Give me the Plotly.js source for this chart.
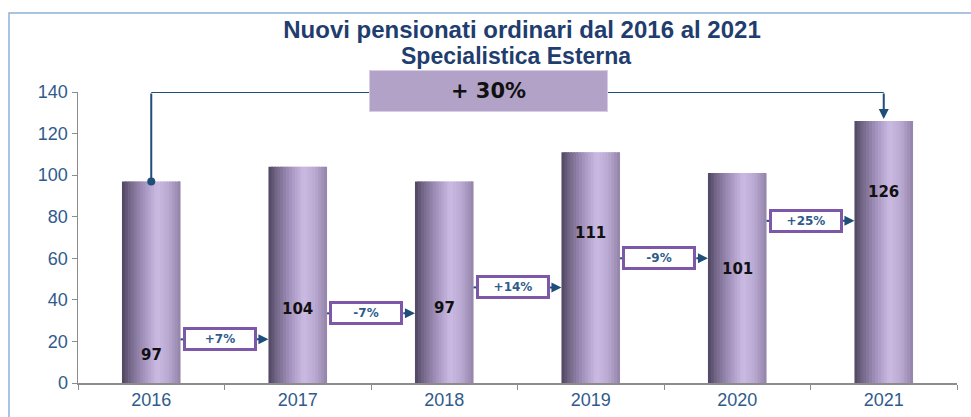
<!DOCTYPE html>
<html>
<head>
<meta charset="utf-8">
<script src="https://cdn.plot.ly/plotly-3.0.1.min.js"></script>
<style>
html,body{margin:0;padding:0;background:#fff;}
#chart{width:971px;height:417px;}
</style>
</head>
<body>
<div id="chart"></div>
<script>
// ---- data ----
const years = ['2016', '2017', '2018', '2019', '2020', '2021'];
const values = [97, 104, 97, 111, 101, 126];
const changeLabels = ['+7%', '-7%', '+14%', '-9%', '+25%'];
const totalChange = '+ 30%';
const titleLine1 = 'Nuovi pensionati ordinari dal 2016 al 2021';
const titleLine2 = 'Specialistica Esterna';

// ---- styling / placement (not data) ----
const labelY = [13.5, 35.6, 36, 72, 55, 92];
const changeBoxY = [21, 33.5, 46, 60, 78];
const BAR_W = 0.4;
const STRIPES = 20;

const stops = [
  [0.00, [78, 68, 95]],
  [0.12, [112, 99, 132]],
  [0.35, [160, 143, 186]],
  [0.60, [203, 187, 227]],
  [0.80, [185, 168, 208]],
  [1.00, [146, 130, 168]]
];
function gradColor(t) {
  for (let i = 0; i < stops.length - 1; i++) {
    const [p0, c0] = stops[i], [p1, c1] = stops[i + 1];
    if (t >= p0 && t <= p1) {
      const f = (t - p0) / (p1 - p0);
      const c = c0.map((v, k) => Math.round(v + (c1[k] - v) * f));
      return `rgb(${c[0]},${c[1]},${c[2]})`;
    }
  }
  return 'rgb(146,130,168)';
}

const traces = [];
const sw = BAR_W / STRIPES;
for (let s = 0; s < STRIPES; s++) {
  const last = s === STRIPES - 1;
  traces.push({
    type: 'bar',
    x: years,
    y: values,
    width: last ? sw : sw * 1.6,
    offset: -BAR_W / 2 + s * sw,
    marker: { color: gradColor((s + 0.5) / STRIPES), line: { width: 0 } },
    hoverinfo: 'skip',
    showlegend: false
  });
}

const annotations = [];
const shapes = [];
const lineCol = '#1f4e79';
const txtCol = '#2f5b8c';
const titleCol = '#1f3d6e';
const boxBorder = '#7e58a8';
const wideFont = 'DejaVu Sans, Verdana, sans-serif';
const sansFont = 'Liberation Sans, Arial, sans-serif';

// title second line
annotations.push({
  x: (516 - 78) / 879, y: 1 + (92 - 56) / 291, xref: 'paper', yref: 'paper',
  xanchor: 'center', yanchor: 'middle',
  text: '<b>' + titleLine2 + '</b>', showarrow: false,
  font: { family: sansFont, size: 23, color: titleCol }
});

// value labels
years.forEach((yr, i) => {
  annotations.push({
    x: i, y: labelY[i], xref: 'x', yref: 'y',
    text: '<b>' + values[i] + '</b>', showarrow: false,
    font: { family: wideFont, size: 15, color: '#111' }
  });
});

// change boxes between bars
changeLabels.forEach((lab, i) => {
  const yb = changeBoxY[i];
  const boxL = i + 0.225, boxR = i + 0.71, boxC = (boxL + boxR) / 2;
  shapes.push({ type: 'line', xref: 'x', yref: 'y', x0: i + BAR_W / 2, x1: boxL, y0: yb, y1: yb,
    line: { color: lineCol, width: 2 } });
  annotations.push({
    x: i + 1 - BAR_W / 2, y: yb, xref: 'x', yref: 'y',
    ax: boxR, ay: yb, axref: 'x', ayref: 'y',
    text: '', showarrow: true, arrowhead: 2, arrowsize: 1, arrowwidth: 2, arrowcolor: lineCol,
    standoff: 0
  });
  annotations.push({
    x: boxC, y: yb, xref: 'x', yref: 'y',
    text: '<b>' + lab + '</b>', showarrow: false,
    width: 66, height: 16,
    bgcolor: '#ffffff', bordercolor: boxBorder, borderwidth: 3, borderpad: 1,
    font: { family: wideFont, size: 12, color: txtCol }
  });
});

// overall change connector
const topY = 140;
annotations.push({
  x: 0, y: values[0], xref: 'x', yref: 'y',
  ax: 0, ay: topY, axref: 'x', ayref: 'y',
  text: '', showarrow: true, arrowhead: 6, arrowsize: 1, arrowwidth: 2, arrowcolor: lineCol, standoff: 0
});
shapes.push({ type: 'line', xref: 'x', yref: 'y', x0: 0, x1: 5, y0: topY, y1: topY,
  line: { color: lineCol, width: 2 } });
annotations.push({
  x: 5, y: values[5] + 1, xref: 'x', yref: 'y',
  ax: 5, ay: topY, axref: 'x', ayref: 'y',
  text: '', showarrow: true, arrowhead: 2, arrowsize: 1, arrowwidth: 2, arrowcolor: lineCol, standoff: 0
});
annotations.push({
  x: 2.305, y: 1.003, xref: 'x', yref: 'paper', yanchor: 'middle',
  text: '<b>' + totalChange + '</b>', showarrow: false,
  width: 237, height: 40,
  bgcolor: '#b3a2c8', bordercolor: '#d8cce6', borderwidth: 1, borderpad: 0,
  font: { family: wideFont, size: 21, color: '#111' }
});

// outer frame
shapes.push({
  type: 'path', xref: 'paper', yref: 'paper',
  path: 'M -0.0785,-0.2 L -0.0785,1.2715 L 1.1,1.2715',
  line: { color: '#8fb0d8', width: 1.5 }
});

const layout = {
  width: 971, height: 417,
  margin: { l: 78, r: 14, t: 92, b: 34 },
  paper_bgcolor: '#ffffff', plot_bgcolor: '#ffffff',
  barmode: 'overlay',
  showlegend: false,
  title: {
    text: '<b>' + titleLine1 + '</b>',
    x: 522 / 971, xanchor: 'center', xref: 'container',
    y: 1 - 30 / 417, yanchor: 'middle', yref: 'container',
    font: { family: sansFont, size: 24, color: titleCol }
  },
  xaxis: {
    type: 'category',
    range: [-0.5, 5.5],
    showline: true, linecolor: '#8c8c8c', linewidth: 1.5,
    ticks: 'outside', tickson: 'boundaries', ticklen: 5, tickcolor: '#8c8c8c',
    showgrid: false, zeroline: false,
    tickfont: { family: sansFont, size: 18, color: txtCol }
  },
  yaxis: {
    range: [0, 140],
    tickvals: [0, 20, 40, 60, 80, 100, 120, 140],
    showline: true, linecolor: '#8c8c8c', linewidth: 1.5,
    ticks: 'outside', ticklen: 5, tickcolor: '#8c8c8c',
    showgrid: false, zeroline: false,
    tickfont: { family: sansFont, size: 18, color: txtCol }
  },
  annotations: annotations,
  shapes: shapes
};

Plotly.newPlot('chart', traces, layout, { displayModeBar: false, staticPlot: true });
</script>
</body>
</html>
